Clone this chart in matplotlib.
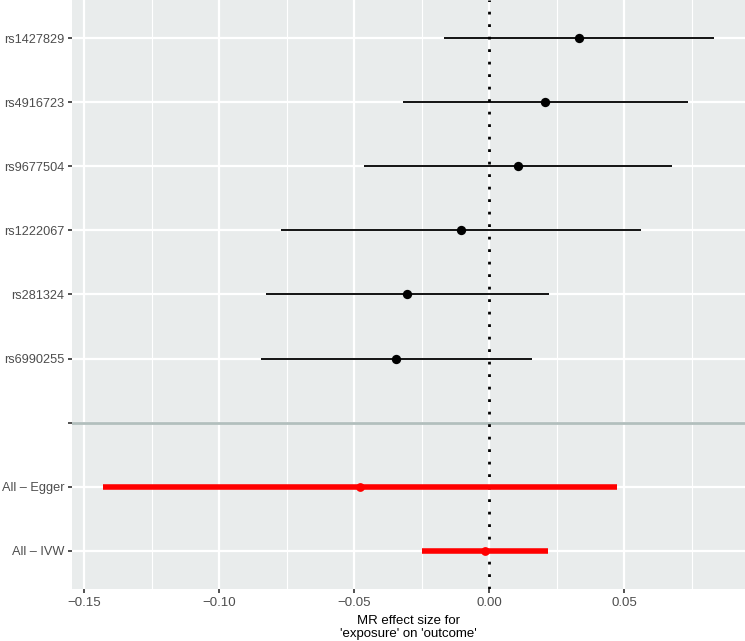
import matplotlib
matplotlib.use("Agg")
import matplotlib.pyplot as plt
from matplotlib.ticker import MultipleLocator, FixedLocator
import numpy as np

# Data (top to bottom)
snps = ["rs1427829", "rs4916723", "rs9677504", "rs1222067", "rs281324", "rs6990255"]
snp_b = [0.0331, 0.0206, 0.0107, -0.0104, -0.0305, -0.0344]
snp_lo = [-0.0169, -0.0321, -0.0463, -0.0770, -0.0828, -0.0846]
snp_hi = [0.0831, 0.0737, 0.0678, 0.0563, 0.0221, 0.0159]

methods = ["All \u2013 Egger", "All \u2013 IVW"]
meth_b = [-0.0480, -0.0017]
meth_lo = [-0.1432, -0.0248]
meth_hi = [0.0471, 0.0218]

xticks = [-0.15, -0.10, -0.05, 0.00, 0.05]
xticklabels = ["\u22120.15", "\u22120.10", "\u22120.05", "0.00", "0.05"]

labels = snps + [""] + methods
n = len(labels)
ypos = {lab: n - i for i, lab in enumerate(labels)}

fig = plt.figure(figsize=(7.45, 6.41), dpi=100)
ax = fig.add_axes([72/745, 52/641, 1 - 72/745, 1 - 52/641])
ax.set_facecolor("#E9ECEC")

ax.set_xlim(-0.1546, 0.0947)
ax.set_ylim(0.4, n + 0.6)

# grid
ax.xaxis.set_major_locator(FixedLocator(xticks))
ax.xaxis.set_minor_locator(MultipleLocator(0.025))
ax.grid(which="major", axis="both", color="white", linewidth=1.6, zorder=0)
ax.grid(which="minor", axis="x", color="white", linewidth=0.8, zorder=0)
ax.set_axisbelow(True)

# separator
ax.axhline(ypos[""], color="#B2BFBD", linewidth=2.0, zorder=1)

# zero line
ax.axvline(0, color="black", linestyle=(0, (1, 3.5)), linewidth=2.0, zorder=2)

# SNP estimates
ys = [ypos[s] for s in snps]
ax.hlines(ys, snp_lo, snp_hi, color="black", linewidth=1.3, zorder=3)
ax.scatter(snp_b, ys, s=45, color="black", zorder=4, linewidths=0)

# Method estimates
ym = [ypos[m] for m in methods]
ax.hlines(ym, meth_lo, meth_hi, color="#FF0000", linewidth=4.0, zorder=3)
ax.scatter(meth_b, ym, s=40, color="#FF0000", zorder=4, linewidths=0)

ax.set_yticks([ypos[l] for l in labels])
ax.set_yticklabels(labels)
ax.set_xticklabels(xticklabels)

for sp in ax.spines.values():
    sp.set_visible(False)

font = "Liberation Sans"
ax.tick_params(axis="both", which="major", length=3, width=1.2, color="#333333",
               labelcolor="#4D4D4D", labelsize=9.5, pad=3)
ax.tick_params(axis="y", which="major", labelsize=9.2, pad=2.5)
ax.tick_params(axis="x", which="minor", length=0)
for t in ax.get_xticklabels() + ax.get_yticklabels():
    t.set_fontfamily(font)

ax.set_xlabel("MR effect size for\n'exposure' on 'outcome'", fontsize=9.5,
              fontfamily=font, color="black", labelpad=4, linespacing=1.15)

fig.savefig("out.png", dpi=100)
